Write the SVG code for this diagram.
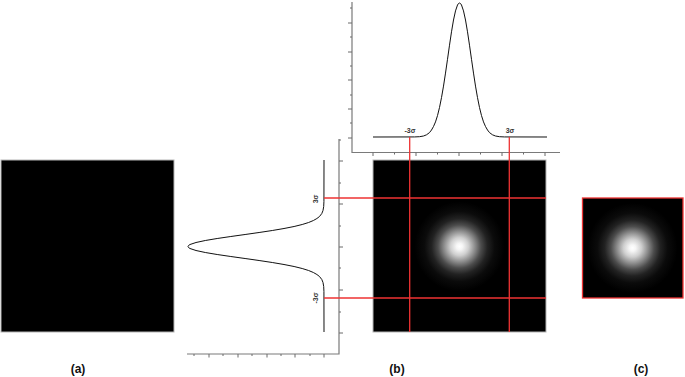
<svg xmlns="http://www.w3.org/2000/svg" width="685" height="377" viewBox="0 0 685 377">
<style>
.axis{stroke:#7a7a7a;stroke-width:1.2;fill:none}
.tick{stroke:#6a6a6a;stroke-width:1;fill:none}
.curve{stroke:#111;stroke-width:1;fill:none}
.red{stroke:#ee3333;stroke-width:1.3;fill:none}
.sig{font-family:"Liberation Sans",Arial,sans-serif;font-size:7px;font-weight:bold;fill:#333}
.lab{font-family:"Liberation Sans",Arial,sans-serif;font-size:12px;font-weight:bold;fill:#111;text-anchor:middle}
</style>
<defs>
<radialGradient id="blob" cx="0.5" cy="0.5" r="0.5">
<stop offset="0" stop-color="#ffffff"/>
<stop offset="0.07" stop-color="#f6f6f6"/>
<stop offset="0.2" stop-color="#cfcfcf"/>
<stop offset="0.34" stop-color="#8e8e8e"/>
<stop offset="0.48" stop-color="#4c4c4c"/>
<stop offset="0.62" stop-color="#222"/>
<stop offset="0.78" stop-color="#0b0b0b"/>
<stop offset="1" stop-color="#000"/>
</radialGradient>
</defs>
<rect width="685" height="377" fill="#fff"/>

<g id="image-a">
<rect x="1" y="160" width="173" height="172" fill="#000" stroke="#b5b5b5" stroke-width="1"/>
</g>

<g id="image-b">
<rect x="373" y="160" width="173" height="172" fill="#000" stroke="#b5b5b5" stroke-width="1"/>
<rect x="414.5" y="201.5" width="90" height="90" fill="url(#blob)"/>
</g>

<g id="image-c">
<rect x="582.5" y="198" width="100.5" height="100" fill="#000"/>
<rect x="587.5" y="203" width="90" height="90" fill="url(#blob)"/>
<rect x="582.5" y="198" width="100.5" height="100" fill="none" stroke="#ee3333" stroke-width="1.3"/>
</g>

<g id="top-profile">
<path class="axis" d="M352,2 V152.5 H560"/>
<path class="tick" d="M352,8h-2M352,23h-4M352,37h-2M352,52h-4M352,66h-2M352,80h-4M352,95h-2M352,109h-4M352,123h-2M352,138h-4"/>
<path class="tick" d="M373,152.5v3.5M394.5,152.5v2M416,152.5v3.5M437.5,152.5v2M459,152.5v3.5M480.5,152.5v2M502,152.5v3.5M523.5,152.5v2M545,152.5v3.5"/>
<path class="curve" d="M373,137 L414.5,136.93 L419.5,136.7 L423.5,136 L426.5,134.8 L429.5,132.6 L431.5,130 L433.5,126.5 L435.5,121.9 L437.5,115.6 L439.5,107.5 L441.5,97.6 L443.5,86.1 L445.5,73.1 L447.5,59.3 L449.5,45.2 L451.5,31.8 L453.5,20 L455.5,10.9 L457.5,5 L458.5,3.5 L459.5,3 L460.5,3.5 L461.5,5 L463.5,10.9 L465.5,20 L467.5,31.8 L469.5,45.2 L471.5,59.3 L473.5,73.1 L475.5,86.1 L477.5,97.6 L479.5,107.5 L481.5,115.6 L483.5,121.9 L485.5,126.5 L487.5,130 L489.5,132.6 L492.5,134.8 L495.5,136 L499.5,136.7 L504.5,136.93 L547,137"/>
<text class="sig" x="410" y="133" text-anchor="middle">-3σ</text>
<text class="sig" x="510" y="133" text-anchor="middle">3σ</text>
</g>

<g id="side-profile">
<path class="axis" d="M339,139 V354 H187"/>
<path class="tick" d="M339,140h2M339,161h4M339,183h2M339,204h4M339,226h2M339,247h4M339,268h2M339,290h4M339,312h2M339,333h4"/>
<path class="tick" d="M194,354v2M209,354v3.5M223,354v2M238,354v3.5M252,354v2M267,354v3.5M281,354v2M295,354v3.5M310,354v2M324,354v3.5"/>
<path class="curve" d="M324,160 L323.93,201.5 L323.7,206.5 L323,210.5 L321.8,213.5 L319.5,216.5 L316.9,218.5 L313.4,220.5 L308.6,222.5 L302.2,224.5 L294.1,226.5 L284,228.5 L272.3,230.5 L259.1,232.5 L245.1,234.5 L230.8,236.5 L217.2,238.5 L205.3,240.5 L196,242.5 L190,244.5 L188.5,245.5 L188,246.5 L188.5,247.5 L190,248.5 L196,250.5 L205.3,252.5 L217.2,254.5 L230.8,256.5 L245.1,258.5 L259.1,260.5 L272.3,262.5 L284,264.5 L294.1,266.5 L302.2,268.5 L308.6,270.5 L313.4,272.5 L316.9,274.5 L319.5,276.5 L321.8,279.5 L323,282.5 L323.7,286.5 L323.93,291.5 L324,332"/>
<text class="sig" transform="translate(318,199) rotate(-90)" text-anchor="middle">3σ</text>
<text class="sig" transform="translate(318,298) rotate(-90)" text-anchor="middle">-3σ</text>
</g>

<g id="connectors">
<path class="red" d="M409.7,137 V332 M509.3,137 V332"/>
<path class="red" d="M324,198 H546 M324,298 H546"/>
</g>

<g id="labels">
<text class="lab" x="78" y="373">(a)</text>
<text class="lab" x="397" y="373">(b)</text>
<text class="lab" x="641" y="373">(c)</text>
</g>
</svg>
